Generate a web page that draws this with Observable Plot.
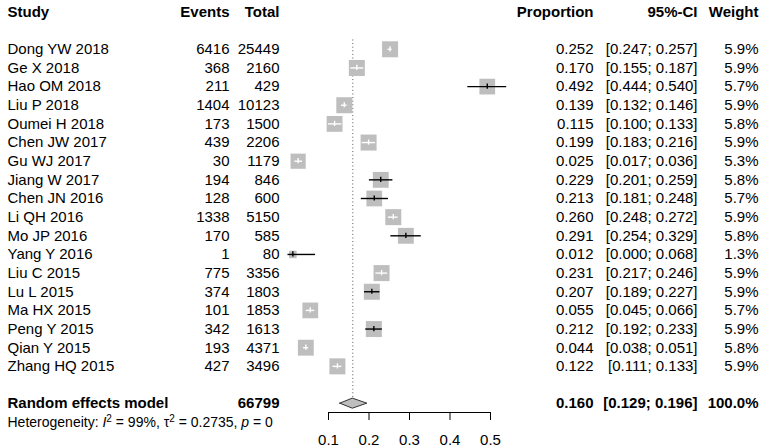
<!DOCTYPE html>
<html>
<head>
<meta charset="utf-8">
<script src="https://cdn.jsdelivr.net/npm/d3@7"></script>
<script src="https://cdn.jsdelivr.net/npm/@observablehq/plot@0.6"></script>
<style>
  html, body { margin: 0; padding: 0; background: #fff; }
</style>
</head>
<body>
<div id="chart"></div>
<script>
// ---- data ----
const studies = ["Dong YW 2018","Ge X 2018","Hao OM 2018","Liu P 2018","Oumei H 2018","Chen JW 2017","Gu WJ 2017","Jiang W 2017","Chen JN 2016","Li QH 2016","Mo JP 2016","Yang Y 2016","Liu C 2015","Lu L 2015","Ma HX 2015","Peng Y 2015","Qian Y 2015","Zhang HQ 2015"];
const events = [6416,368,211,1404,173,439,30,194,128,1338,170,1,775,374,101,342,193,427];
const totals = [25449,2160,429,10123,1500,2206,1179,846,600,5150,585,80,3356,1803,1853,1613,4371,3496];
const proportions = [0.252,0.170,0.492,0.139,0.115,0.199,0.025,0.229,0.213,0.260,0.291,0.012,0.231,0.207,0.055,0.212,0.044,0.122];
const lowers = [0.247,0.155,0.444,0.132,0.100,0.183,0.017,0.201,0.181,0.248,0.254,0.000,0.217,0.189,0.045,0.192,0.038,0.111];
const uppers = [0.257,0.187,0.540,0.146,0.133,0.216,0.036,0.259,0.248,0.272,0.329,0.068,0.246,0.227,0.066,0.233,0.051,0.133];
const weights = [5.9,5.9,5.7,5.9,5.8,5.9,5.3,5.8,5.7,5.9,5.8,1.3,5.9,5.9,5.7,5.9,5.8,5.9];

const summaryLabel = "Random effects model";
const summaryTotal = 66799;
const summaryEst = 0.160, summaryLower = 0.129, summaryUpper = 0.196, summaryWeight = 100.0;
const heterogeneity = {I2: "99%", tau2: "0.2735", p: "0"};
const xTicks = [0.1, 0.2, 0.3, 0.4, 0.5];
const headers = {study: "Study", events: "Events", total: "Total", prop: "Proportion", ci: "95%-CI", weight: "Weight"};

// ---- layout ----
const W = 762, H = 448;
const mL = 328, mR = 272;              // forest panel spans x 328..490
const rowH = 18.65, row0 = 11.5;
const pxPerUnit = (W - mL - mR) / (xTicks[xTicks.length-1] - xTicks[0]);
const maxSide = 16, maxW = 5.9;
const col = {study: 7, events: 229, total: 279, prop: 593, ci: 697, weight: 758};
const dx = c => c - mL;
const font = "Liberation Sans, Arial, Helvetica, sans-serif";
const grey = "#bebebe";

const rows = studies.map((s, i) => {
  const half = maxSide / 2 * Math.sqrt(weights[i] / maxW);
  const outside = (proportions[i] - lowers[i]) * pxPerUnit > half || (uppers[i] - proportions[i]) * pxPerUnit > half;
  return {
    study: s, events: events[i], total: totals[i], prop: proportions[i],
    lower: lowers[i], upper: uppers[i], weight: weights[i], row: i + 2,
    lineColor: outside ? "black" : "white",
    ci: `[${lowers[i].toFixed(3)}; ${uppers[i].toFixed(3)}]`,
    w: `${weights[i].toFixed(1)}%`
  };
});
const sumRow = studies.length + 3;   // one blank row
const hetRow = sumRow + 1;
const dh = 0.27;
const diamond = [
  {x: summaryLower, y1: sumRow, y2: sumRow},
  {x: summaryEst, y1: sumRow - dh, y2: sumRow + dh},
  {x: summaryUpper, y1: sumRow, y2: sumRow}
];
const header = [{row: 0}];
const summary = [{row: sumRow}];

const txt = (data, text, c, anchor, extra = {}) => Plot.text(data, {
  y: "row", text, frameAnchor: "left", dx: dx(c), textAnchor: anchor,
  fontSize: 15, fontFamily: font, fill: "black", ...extra
});

const chart = Plot.plot({
  width: W, height: H,
  marginLeft: mL, marginRight: mR, marginTop: 0, marginBottom: 36,
  style: {fontFamily: font, fontSize: "15px", color: "black", background: "white"},
  x: {domain: [xTicks[0], xTicks[xTicks.length-1]], ticks: xTicks, tickSize: 8, tickPadding: 14,
      tickFormat: d3.format(".1f"), line: true, label: null},
  y: {domain: [0, hetRow], range: [row0, row0 + hetRow * rowH], axis: null},
  r: {type: "sqrt", domain: [0, maxW], range: [0, maxSide / Math.sqrt(Math.PI)]},
  color: {type: "identity"},
  marks: [
    Plot.ruleX([summaryEst], {y1: 1.5, y2: sumRow - dh, stroke: "#555", strokeDasharray: "1,2.6", strokeWidth: 1}),
    Plot.dot(rows, {x: "prop", y: "row", r: "weight", symbol: "square", fill: grey, stroke: "none"}),
    Plot.ruleY(rows, {y: "row", x1: "lower", x2: "upper", stroke: "lineColor", strokeWidth: 1.4}),
    Plot.ruleX(rows, {x: "prop", y1: d => d.row - 0.14, y2: d => d.row + 0.14, stroke: "lineColor", strokeWidth: 1.4}),
    Plot.areaY(diamond, {x: "x", y1: "y1", y2: "y2", fill: grey, stroke: "#333", strokeWidth: 1}),
    // headers
    txt(header, () => headers.study, col.study, "start", {fontWeight: "bold"}),
    txt(header, () => headers.events, col.events, "end", {fontWeight: "bold"}),
    txt(header, () => headers.total, col.total, "end", {fontWeight: "bold"}),
    txt(header, () => headers.prop, col.prop, "end", {fontWeight: "bold"}),
    txt(header, () => headers.ci, col.ci, "end", {fontWeight: "bold"}),
    txt(header, () => headers.weight, col.weight, "end", {fontWeight: "bold"}),
    // study rows
    txt(rows, "study", col.study, "start"),
    txt(rows, d => String(d.events), col.events, "end"),
    txt(rows, d => String(d.total), col.total, "end"),
    txt(rows, d => d.prop.toFixed(3), col.prop, "end"),
    txt(rows, "ci", col.ci, "end"),
    txt(rows, "w", col.weight, "end"),
    // summary
    txt(summary, () => summaryLabel, col.study, "start", {fontWeight: "bold"}),
    txt(summary, () => String(summaryTotal), col.total, "end", {fontWeight: "bold"}),
    txt(summary, () => summaryEst.toFixed(3), col.prop, "end", {fontWeight: "bold"}),
    txt(summary, () => `[${summaryLower.toFixed(3)}; ${summaryUpper.toFixed(3)}]`, col.ci, "end", {fontWeight: "bold"}),
    txt(summary, () => `${summaryWeight.toFixed(1)}%`, col.weight, "end", {fontWeight: "bold"}),
    // heterogeneity
    txt([{row: hetRow}], () => `Heterogeneity: I2 = ${heterogeneity.I2}, τ2 = ${heterogeneity.tau2}, p = ${heterogeneity.p}`,
        col.study, "start", {fontSize: 14, className: "het"})
  ]
});
document.getElementById("chart").appendChild(chart);

// rich formatting (italic, superscripts) for the heterogeneity line
d3.select(chart).selectAll("g.het text").each(function () {
  const t = d3.select(this);
  t.text(null);
  t.append("tspan").text("Heterogeneity: ");
  t.append("tspan").attr("font-style", "italic").text("I");
  t.append("tspan").attr("font-size", "10px").attr("dy", "-5px").text("2");
  t.append("tspan").attr("dy", "5px").text(` = ${heterogeneity.I2}, τ`);
  t.append("tspan").attr("font-size", "10px").attr("dy", "-5px").text("2");
  t.append("tspan").attr("dy", "5px").text(` = ${heterogeneity.tau2}, `);
  t.append("tspan").attr("font-style", "italic").text("p");
  t.append("tspan").text(` = ${heterogeneity.p}`);
});
</script>
</body>
</html>
